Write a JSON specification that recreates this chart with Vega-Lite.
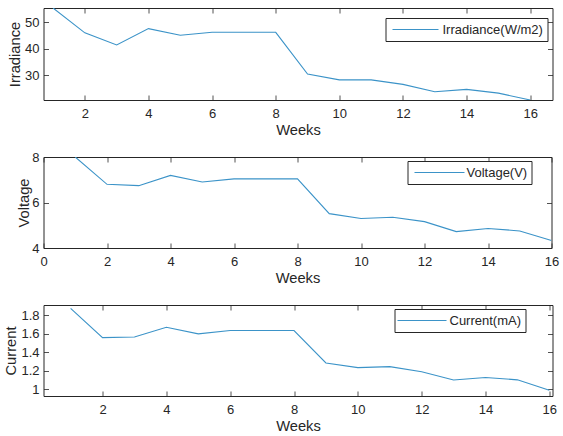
{
  "$schema": "https://vega.github.io/schema/vega-lite/v6.json",
  "padding": {"left": 2.5, "top": 7, "right": 0, "bottom": 0},
  "background": "white",
  "datasets": {
    "d": [
      {"week": 1, "irr": 55.4, "volt": 8.0, "curr": 1.877},
      {"week": 2, "irr": 46.0, "volt": 6.80, "curr": 1.559},
      {"week": 3, "irr": 41.4, "volt": 6.74, "curr": 1.566},
      {"week": 4, "irr": 47.6, "volt": 7.19, "curr": 1.672},
      {"week": 5, "irr": 45.1, "volt": 6.90, "curr": 1.60},
      {"week": 6, "irr": 46.2, "volt": 7.04, "curr": 1.636},
      {"week": 7, "irr": 46.2, "volt": 7.04, "curr": 1.636},
      {"week": 8, "irr": 46.2, "volt": 7.04, "curr": 1.636},
      {"week": 9, "irr": 30.4, "volt": 5.51, "curr": 1.285},
      {"week": 10, "irr": 28.2, "volt": 5.30, "curr": 1.234},
      {"week": 11, "irr": 28.2, "volt": 5.35, "curr": 1.245},
      {"week": 12, "irr": 26.5, "volt": 5.16, "curr": 1.19},
      {"week": 13, "irr": 23.7, "volt": 4.72, "curr": 1.10},
      {"week": 14, "irr": 24.6, "volt": 4.86, "curr": 1.128},
      {"week": 15, "irr": 23.2, "volt": 4.75, "curr": 1.102},
      {"week": 16, "irr": 20.6, "volt": 4.33, "curr": 0.99}
    ]
  },
  "data": {"name": "d"},
  "bounds": "flush",
  "spacing": 57,
  "vconcat": [
    {
      "width": 509,
      "height": 92,
      "layer": [
        {
          "mark": {"type": "line", "clip": true, "strokeWidth": 1.1},
          "encoding": {
            "x": {"field": "week", "type": "quantitative", "scale": {"domain": [0.7, 16.7], "nice": false, "zero": false},
                  "axis": {"values": [2, 4, 6, 8, 10, 12, 14, 16], "title": "Weeks"}},
            "y": {"field": "irr", "type": "quantitative", "scale": {"domain": [20.6, 55.4], "nice": false, "zero": false},
                  "axis": {"values": [30, 40, 50], "title": "Irradiance"}},
            "color": {"datum": "Irradiance(W/m2)", "type": "nominal", "scale": {"range": ["#3b93c8"]},
                      "legend": {"orient": "none", "legendX": 342, "legendY": 10, "symbolType": "M-3.538,0H3.538", "symbolOffset": 18.5, "labelOffset": 19.5,
                                 "labelExpr": "datum.label + '\u00a0\u00a0\u00a0\u00a0\u00a0'"}}
          }
        },
        {
          "mark": {"type": "line", "strokeOpacity": 0},
          "encoding": {
            "x": {"field": "week", "type": "quantitative", "axis": {"orient": "top", "values": [2, 4, 6, 8, 10, 12, 14, 16], "labels": false, "title": null}},
            "y": {"field": "irr", "type": "quantitative", "axis": {"orient": "right", "values": [30, 40, 50], "labels": false, "title": null}}
          }
        }
      ],
      "resolve": {"axis": {"x": "independent", "y": "independent"}}
    },
    {
      "width": 508,
      "height": 91,
      "layer": [
        {
          "mark": {"type": "line", "clip": true, "strokeWidth": 1.1},
          "encoding": {
            "x": {"field": "week", "type": "quantitative", "scale": {"domain": [0, 16], "nice": false, "zero": false},
                  "axis": {"values": [0, 2, 4, 6, 8, 10, 12, 14, 16], "title": "Weeks"}},
            "y": {"field": "volt", "type": "quantitative", "scale": {"domain": [4, 8], "nice": false, "zero": false},
                  "axis": {"values": [4, 6, 8], "title": "Voltage", "titlePadding": 0.5}},
            "color": {"datum": "Voltage(V)", "type": "nominal", "scale": {"range": ["#3b93c8"]},
                      "legend": {"orient": "none", "legendX": 364, "legendY": 4, "symbolType": "M-3.846,0H3.846", "symbolOffset": 20.5, "labelOffset": 19.5,
                                 "labelExpr": "datum.label + '\u00a0\u00a0\u00a0\u00a0\u00a0'"}}
          }
        },
        {
          "mark": {"type": "line", "strokeOpacity": 0},
          "encoding": {
            "x": {"field": "week", "type": "quantitative", "axis": {"orient": "top", "values": [0, 2, 4, 6, 8, 10, 12, 14, 16], "labels": false, "title": null}},
            "y": {"field": "volt", "type": "quantitative", "axis": {"orient": "right", "values": [4, 6, 8], "labels": false, "title": null}}
          }
        }
      ],
      "resolve": {"axis": {"x": "independent", "y": "independent"}}
    },
    {
      "width": 509,
      "height": 91,
      "layer": [
        {
          "mark": {"type": "line", "clip": true, "strokeWidth": 1.1},
          "encoding": {
            "x": {"field": "week", "type": "quantitative", "scale": {"domain": [0.15, 16.1], "nice": false, "zero": false},
                  "axis": {"values": [2, 4, 6, 8, 10, 12, 14, 16], "title": "Weeks"}},
            "y": {"field": "curr", "type": "quantitative", "scale": {"domain": [0.927, 1.913], "nice": false, "zero": false},
                  "axis": {"values": [1, 1.2, 1.4, 1.6, 1.8], "format": "~g", "title": "Current"}},
            "color": {"datum": "Current(mA)", "type": "nominal", "scale": {"range": ["#3b93c8"]},
                      "legend": {"orient": "none", "legendX": 351, "legendY": 4, "symbolType": "M-3.77,0H3.77", "symbolOffset": 16, "labelOffset": 20,
                                 "labelExpr": "datum.label + '\u00a0\u00a0\u00a0\u00a0'"}}
          }
        },
        {
          "mark": {"type": "line", "strokeOpacity": 0},
          "encoding": {
            "x": {"field": "week", "type": "quantitative", "axis": {"orient": "top", "values": [2, 4, 6, 8, 10, 12, 14, 16], "labels": false, "title": null}},
            "y": {"field": "curr", "type": "quantitative", "axis": {"orient": "right", "values": [1, 1.2, 1.4, 1.6, 1.8], "labels": false, "title": null}}
          }
        }
      ],
      "resolve": {"axis": {"x": "independent", "y": "independent"}}
    }
  ],
  "resolve": {"scale": {"color": "independent"}, "legend": {"color": "independent"}},
  "config": {
    "view": {"stroke": "#262626", "strokeWidth": 1},
    "axis": {
      "domain": false, "grid": false, "ticks": true, "tickSize": -5, "tickColor": "#262626", "tickWidth": 0.8,
      "labelFont": "Liberation Sans", "labelFontSize": 13, "labelColor": "#262626",
      "titleFont": "Liberation Sans", "titleFontSize": 14.7, "titleFontWeight": "normal", "titleColor": "#262626", "titlePadding": 2,
      "labelFlush": false, "labelOverlap": false, "labelBound": false
    },
    "axisX": {"labelPadding": 12.5},
    "axisY": {"labelPadding": 9.5},
    "legend": {
      "title": null, "symbolSize": 169, "symbolStrokeWidth": 1.1, "strokeColor": "#262626", "fillColor": "white",
      "padding": 4, "labelFont": "Liberation Sans", "labelFontSize": 13, "labelColor": "#262626",
      "labelLimit": 300
    }
  }
}
